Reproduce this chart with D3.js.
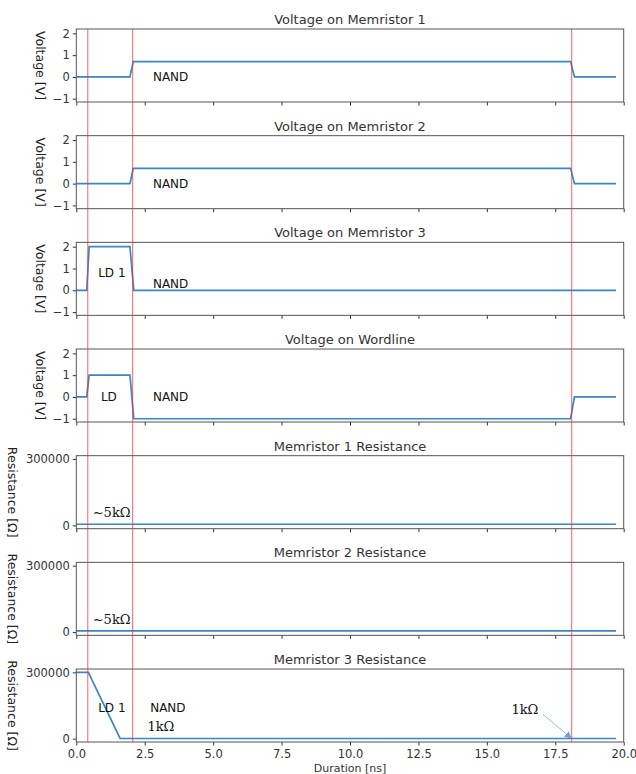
<!DOCTYPE html>
<html><head><meta charset="utf-8">
<script src="https://cdn.jsdelivr.net/npm/d3@7"></script>
<style>body{margin:0;background:#fff}svg{display:block}</style>
</head><body>
<svg id="c" width="636" height="774"></svg>
<script>
const titles = ["Voltage on Memristor 1","Voltage on Memristor 2","Voltage on Memristor 3","Voltage on Wordline",
  "Memristor 1 Resistance","Memristor 2 Resistance","Memristor 3 Resistance"];
const kinds = ["V","V","V","V","R","R","R"];
// series: time (ns) and values
const t1 = [0, 1.96, 2.08, 18.06, 18.2, 19.72];
const v1 = [0, 0, 0.7, 0.7, 0, 0];
const t2 = [0, 1.96, 2.08, 18.06, 18.2, 19.72];
const v2 = [0, 0, 0.7, 0.7, 0, 0];
const t3 = [0, 0.38, 0.47, 1.96, 2.1, 19.72];
const v3 = [0, 0, 2, 2, 0, 0];
const t4 = [0, 0.38, 0.47, 1.96, 2.1, 18.06, 18.2, 19.72];
const v4 = [0, 0, 1, 1, -1, -1, 0, 0];
const t5 = [0, 19.72];
const r5 = [5000, 5000];
const t6 = [0, 19.72];
const r6 = [5000, 5000];
const t7 = [0, 0.44, 1.6, 19.72];
const r7 = [300000, 300000, 1000, 1000];
const seriesT = [t1,t2,t3,t4,t5,t6,t7];
const seriesV = [v1,v2,v3,v4,r5,r6,r7];
const xTicks = [0, 2.5, 5, 7.5, 10, 12.5, 15, 17.5, 20];
const vTicks = [-1, 0, 1, 2];
const rTicks = [0, 300000];
const markers = [0.42, 2.06, 18.1];
// annotations: [panel, text, x(ns), value, serif]
const notes = [
  [0,"NAND",2.8,0,false],[1,"NAND",2.8,0,false],
  [2,"LD 1",0.8,0.8,false],[2,"NAND",2.8,0.3,false],
  [3,"LD",0.9,0,false],[3,"NAND",2.8,0,false],
  [4,"~5kΩ",0.6,58000,true],[5,"~5kΩ",0.6,58000,true],
  [6,"LD 1",0.8,140000,false],[6,"NAND",2.7,140000,false],
  [6,"1kΩ",2.6,55000,true],[6,"1kΩ",15.9,130000,true]
];

const svg = d3.select("#c");
const x = d3.scaleLinear().domain([0,20]).range([76.3,623.7]);
const top0 = 29, step = 106.67, h = 73;
const font = "DejaVu Sans, sans-serif";
const blue = "#3b86c6";

kinds.forEach((k,i)=>{
  const y0 = top0 + i*step;
  const y = k==="V" ? d3.scaleLinear().domain([-1.15,2.2]).range([y0+h,y0])
                    : d3.scaleLinear().domain([-15000,315000]).range([y0+h,y0]);
  const g = svg.append("g");
  const xa = d3.axisBottom(x).tickValues(xTicks).tickSizeOuter(0).tickSize(3.5)
     .tickFormat(i===6 ? d3.format(".1f") : ()=>"");
  const gx = g.append("g").attr("transform",`translate(0,${y0+h})`).call(xa);
  gx.select(".domain").remove();
  gx.selectAll("line").attr("stroke","#333");
  gx.selectAll("text").attr("font-family",font).attr("font-size",11.5).attr("fill","#333").attr("dy","0.8em");
  const ya = d3.axisLeft(y).tickValues(k==="V"?vTicks:rTicks).tickSizeOuter(0).tickSize(3.5)
     .tickFormat(k==="V" ? (d=>d<0?"\u2212"+(-d):d) : d3.format("d"));
  const gy = g.append("g").attr("transform",`translate(${x(0)},0)`).call(ya);
  gy.select(".domain").remove();
  gy.selectAll("line").attr("stroke","#333");
  gy.selectAll("text").attr("font-family",font).attr("font-size",11.5).attr("fill","#333");
  const line = d3.line().x((d,j)=>x(seriesT[i][j])).y(d=>y(d));
  g.append("path").datum(seriesV[i]).attr("d",line).attr("fill","none")
    .attr("stroke",blue).attr("stroke-width",1.7);
  g.append("rect").attr("x",x(0)).attr("y",y0).attr("width",x(20)-x(0)).attr("height",h)
    .attr("fill","none").attr("stroke","#555").attr("stroke-width",1);
  g.append("text").attr("x",(x(0)+x(20))/2).attr("y",y0-5).attr("text-anchor","middle")
    .attr("font-family",font).attr("font-size",13).attr("fill","#333").text(titles[i]);
  const lx = k==="V" ? 40 : 12;
  g.append("text").attr("transform",`translate(${lx},${y0+h/2}) rotate(90)`)
    .attr("text-anchor","middle").attr("dy","0.35em")
    .attr("font-family",font).attr("font-size",12.5).attr("fill","#222")
    .text(k==="V" ? "Voltage [V]" : "Resistance [Ω]");
  notes.filter(n=>n[0]===i).forEach(n=>{
    g.append("text").attr("x",x(n[2])).attr("y",y(n[3])).attr("dy","0.35em")
      .attr("font-family", n[4] ? "DejaVu Serif, Liberation Serif, serif" : font)
      .attr("font-size", n[4] ? 13 : 12).attr("fill","#111").text(n[1]);
  });
  if(i===6){
    const defs = svg.append("defs");
    defs.append("marker").attr("id","ah").attr("viewBox","0 0 10 10").attr("refX",9).attr("refY",5)
      .attr("markerWidth",7).attr("markerHeight",7).attr("orient","auto")
      .append("path").attr("d","M0,0 L10,5 L0,10 z").attr("fill","#6a9fd0");
    g.append("line").attr("x1",x(17.05)).attr("y1",y(110000)).attr("x2",x(18.08)).attr("y2",y(3000))
      .attr("stroke","#9bbbd8").attr("stroke-width",1).attr("marker-end","url(#ah)");
    g.append("text").attr("x",(x(0)+x(20))/2).attr("y",771.5).attr("text-anchor","middle")
      .attr("font-family",font).attr("font-size",11).attr("fill","#333").text("Duration [ns]");
  }
});
markers.forEach(m=>{
  svg.append("line").attr("x1",x(m)).attr("x2",x(m)).attr("y1",top0).attr("y2",top0+6*step+h)
    .attr("stroke","#f03030").attr("stroke-opacity",0.75).attr("stroke-width",1);
});
</script>
</body></html>
